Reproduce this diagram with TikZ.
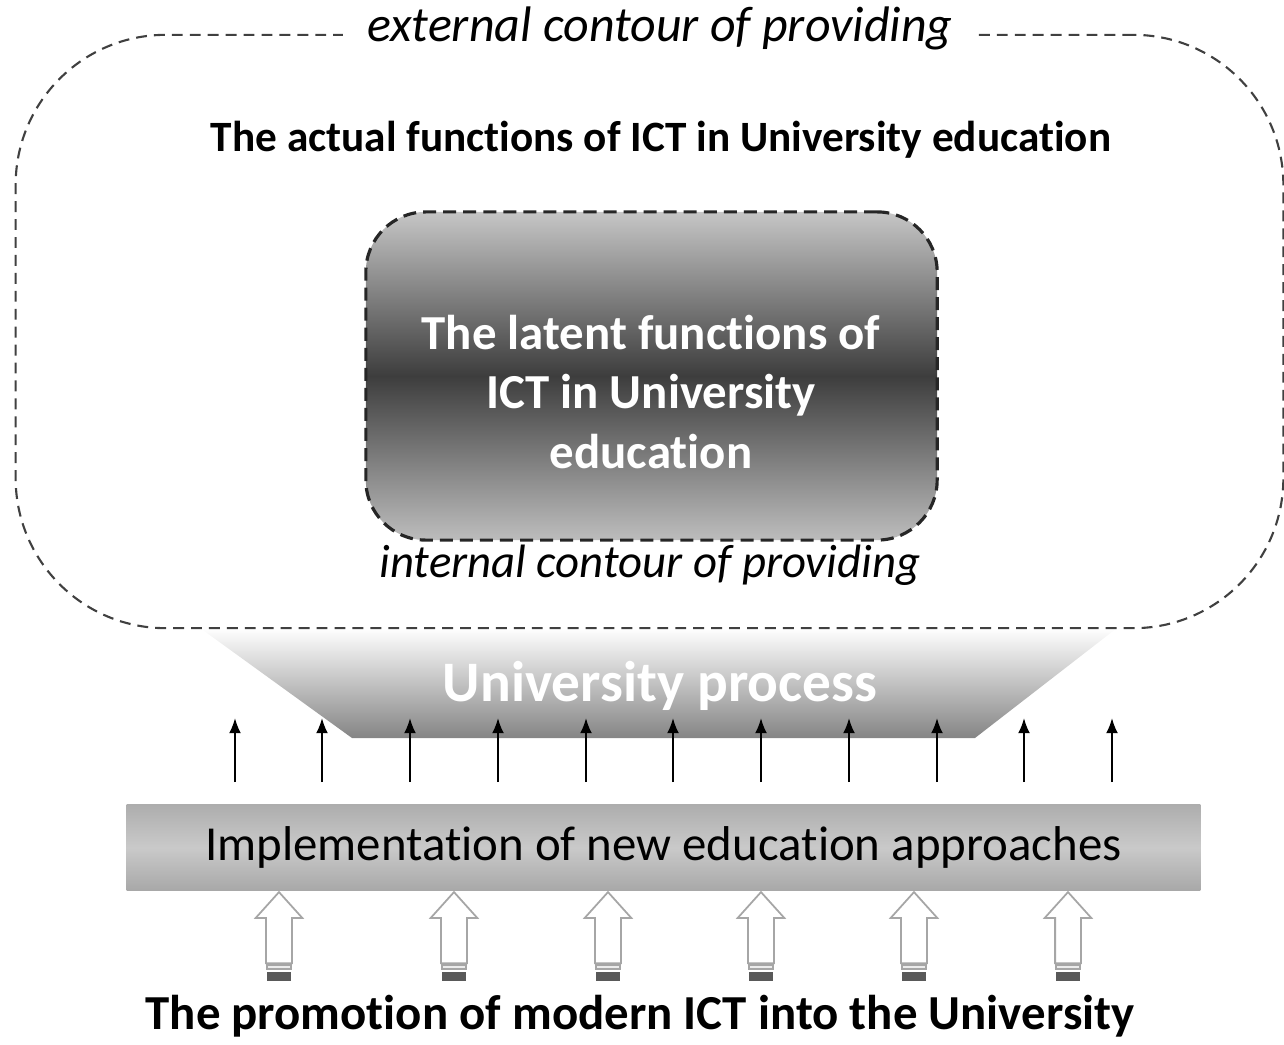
\documentclass[tikz,border=0pt]{standalone}
\usepackage{fontspec}
\setmainfont{Carlito}[Ligatures=NoCommon]
\usepackage{tikz}
\usetikzlibrary{arrows.meta,shapes.arrows}

% hollow striped arrow with its tail at (x,964)
\newcommand{\promarrow}[2]{%
  \node [hollow,anchor=tail] (#1) at (#2,964) {};
  \draw [gray!70,fill=gray!15,line width=0.4pt] (#2-12,965) rectangle (#2+12,969);
  \fill [black!65] (#2-12,972) rectangle (#2+12,981);
}

\begin{document}
\begin{tikzpicture}[x=0.01cm,y=-0.01cm]
\tikzstyle{extbox}=[rectangle,rounded corners=1.5cm,draw=black!75,line width=0.6pt,dash pattern=on 3.1pt off 2pt,minimum width=12.67cm,minimum height=5.93cm]
\tikzstyle{inbox}=[rectangle,rounded corners=0.6cm,draw=black!85,line width=0.9pt,dash pattern=on 3.7pt off 2pt,minimum width=5.71cm,minimum height=3.28cm,top color=gray!45,bottom color=gray!52,middle color=black!76]
\tikzstyle{label}=[inner sep=1pt,font=\itshape\fontsize{14.2}{17}\selectfont]
\tikzstyle{title}=[font=\bfseries\fontsize{12.3}{15}\selectfont]
\tikzstyle{thinarr}=[-{Latex[length=4.3pt,width=3.4pt]},line width=0.6pt]
\tikzstyle{hollow}=[single arrow,draw=gray!70,fill=white,line width=0.5pt,rotate=90,inner sep=0pt,inner ysep=0.12cm,minimum height=0.71cm,minimum width=0.45cm,single arrow head extend=0.105cm,single arrow tip angle=84]
\useasboundingbox (0,0) rectangle (1284,1045);
% university process
\shade [top color=white,bottom color=black!48] (200,628) -- (1117,628) -- (975,738) -- (352,738) -- cycle;
\node [white,font=\bfseries\fontsize{16.3}{20}\selectfont] (uproc) at (660,686) {University process};
% external contour
\node [extbox] (ext) at (649.5,331.5) {};
\node [label,fill=white,inner xsep=7pt] (extlabel) at (660,28) {external contour of providing};
\node [title] (actual) at (661,140) {The actual functions of ICT in University education};
% internal contour
\node [inbox] (inbox) at (651.5,376) {};
\node [white,align=center,font=\bfseries\fontsize{13.9}{17}\selectfont] (latent) at (651,392) {The latent functions of\\ICT in University\\education};
\node [label,font=\itshape\fontsize{13.3}{16}\selectfont] (intlabel) at (650,565) {internal contour of providing};
% thin arrows
\draw [thinarr] (235,782) -- (235,718);
\draw [thinarr] (322,782) -- (322,718);
\draw [thinarr] (410,782) -- (410,718);
\draw [thinarr] (498,782) -- (498,718);
\draw [thinarr] (586,782) -- (586,718);
\draw [thinarr] (673,782) -- (673,718);
\draw [thinarr] (761,782) -- (761,718);
\draw [thinarr] (849,782) -- (849,718);
\draw [thinarr] (937,782) -- (937,718);
\draw [thinarr] (1024,782) -- (1024,718);
\draw [thinarr] (1112,782) -- (1112,718);
% approaches
\node [rectangle,minimum width=10.73cm,minimum height=0.85cm,top color=gray!64,bottom color=gray!68,middle color=gray!42,font=\fontsize{13.9}{17}\selectfont] (impl) at (663.5,847.5) {Implementation of new education approaches};
\promarrow{a1}{279}
\promarrow{a2}{454}
\promarrow{a3}{608}
\promarrow{a4}{761}
\promarrow{a5}{914}
\promarrow{a6}{1068}
\node [font=\bfseries\fontsize{13.9}{17}\selectfont] (promo) at (640,1016) {The promotion of modern ICT into the University};
\end{tikzpicture}
\end{document}
